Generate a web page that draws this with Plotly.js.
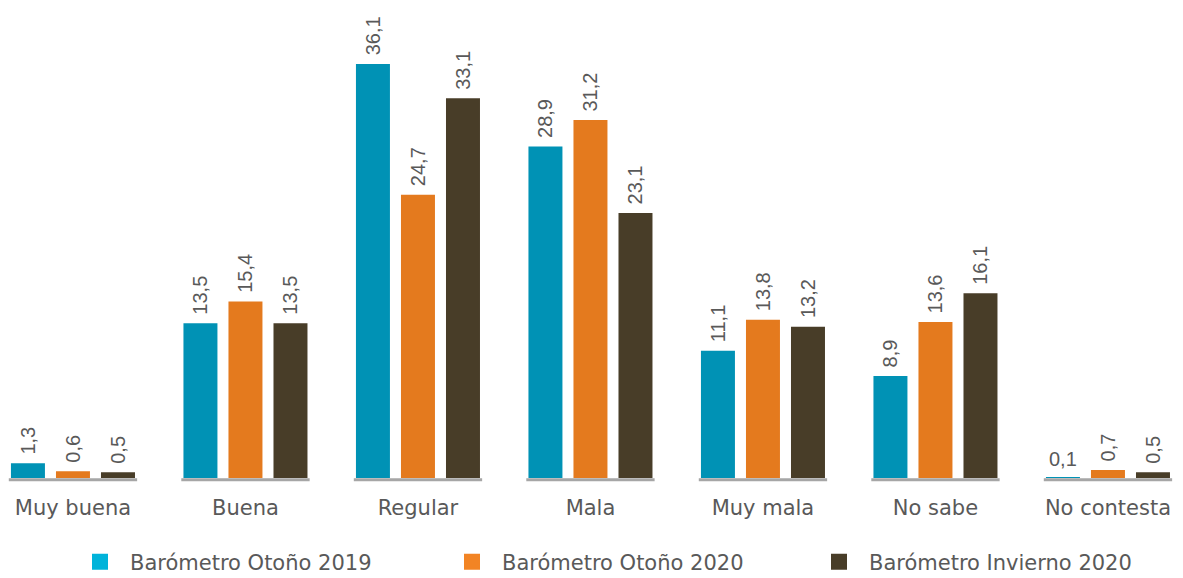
<!DOCTYPE html>
<html>
<head>
<meta charset="utf-8">
<script src="https://cdn.plot.ly/plotly-3.0.1.min.js"></script>
<style>html,body{margin:0;padding:0;background:#fff;}#chart{width:1183px;height:578px;}</style>
</head>
<body>
<div id="chart"></div>
<script>
const categories = ["Muy buena", "Buena", "Regular", "Mala", "Muy mala", "No sabe", "No contesta"];
const seriesNames = ["Barómetro Otoño 2019", "Barómetro Otoño 2020", "Barómetro Invierno 2020"];
const otono2019 = [1.3, 13.5, 36.1, 28.9, 11.1, 8.9, 0.1];
const otono2020 = [0.6, 15.4, 24.7, 31.2, 13.8, 13.6, 0.7];
const invierno2020 = [0.5, 13.5, 33.1, 23.1, 13.2, 16.1, 0.5];

const barColors = ["#0092b5", "#e47a1e", "#483d28"];
const legendColors = ["#00b3da", "#f28424", "#483d28"];
const labelColor = "#595959";
const FONT = "DejaVu Sans, sans-serif";
const NUMFONT = "Liberation Sans, Arial, sans-serif";

const bargap = 0.217, bargroupgap = 0.245;
const slot = (1 - bargap) / 3;
const fmt = v => v.toFixed(1).replace(".", ",");

const series = [otono2019, otono2020, invierno2020];
const legendIds = ["legend", "legend2", "legend3"];
const traces = [];
series.forEach((vals, k) => {
  // the tiny "0,1" label is drawn horizontally as an annotation instead
  const texts = vals.map(v => v < 0.3 ? "" : "\u00a0" + fmt(v));
  traces.push({
    type: "bar",
    x: categories,
    y: vals,
    name: seriesNames[k],
    marker: {color: barColors[k]},
    text: texts,
    texttemplate: "%{text}",
    textposition: "outside",
    textangle: -90,
    constraintext: "none",
    cliponaxis: false,
    textfont: {family: NUMFONT, size: 20, color: labelColor},
    showlegend: false,
    hoverinfo: "x+y+name"
  });
});
// legend entries (one legend per series so each can sit where the reference has it)
series.forEach((vals, k) => {
  traces.push({
    type: "scatter",
    mode: "markers",
    x: [null], y: [null],
    name: seriesNames[k],
    legend: legendIds[k],
    marker: {symbol: "square", size: 16, color: legendColors[k]},
    showlegend: true,
    hoverinfo: "skip"
  });
});

const shapes = categories.map((c, i) => ({
  type: "line", xref: "x", yref: "y",
  x0: i - 0.372, x1: i + 0.372, y0: -0.15, y1: -0.15,
  line: {color: "#a6a6a6", width: 3}
}));

const annotations = [];
series.forEach((vals, k) => {
  vals.forEach((v, i) => {
    if (v < 0.3) {
      annotations.push({
        x: i + (k - 1) * slot, y: v, xref: "x", yref: "y",
        yanchor: "bottom", yshift: 5, showarrow: false,
        text: fmt(v),
        font: {family: NUMFONT, size: 20, color: labelColor}
      });
    }
  });
});

function legendAt(xpx) {
  return {
    orientation: "h", xref: "paper", x: xpx / 1183, xanchor: "left",
    yref: "container", y: 1 - 562 / 578, yanchor: "middle",
    itemwidth: 50,
    font: {family: FONT, size: 21, color: labelColor},
    bgcolor: "rgba(0,0,0,0)"
  };
}

const layout = {
  width: 1183, height: 578,
  margin: {l: 0, r: 0, t: 0, b: 85},
  paper_bgcolor: "#ffffff", plot_bgcolor: "#ffffff",
  barmode: "group", bargap: bargap, bargroupgap: bargroupgap,
  separators: ",.",
  font: {family: FONT, color: labelColor},
  xaxis: {
    type: "category", range: [-0.423, 6.435], automargin: false,
    showgrid: false, zeroline: false, showline: false, ticks: "",
    tickfont: {family: FONT, size: 21, color: labelColor}
  },
  yaxis: {
    range: [-1.3, 41.67], visible: false, showgrid: false, zeroline: false
  },
  showlegend: true,
  legend: legendAt(70),
  legend2: legendAt(442),
  legend3: legendAt(809),
  shapes: shapes,
  annotations: annotations
};

Plotly.newPlot("chart", traces, layout, {displayModeBar: false, staticPlot: true});
</script>
</body>
</html>
